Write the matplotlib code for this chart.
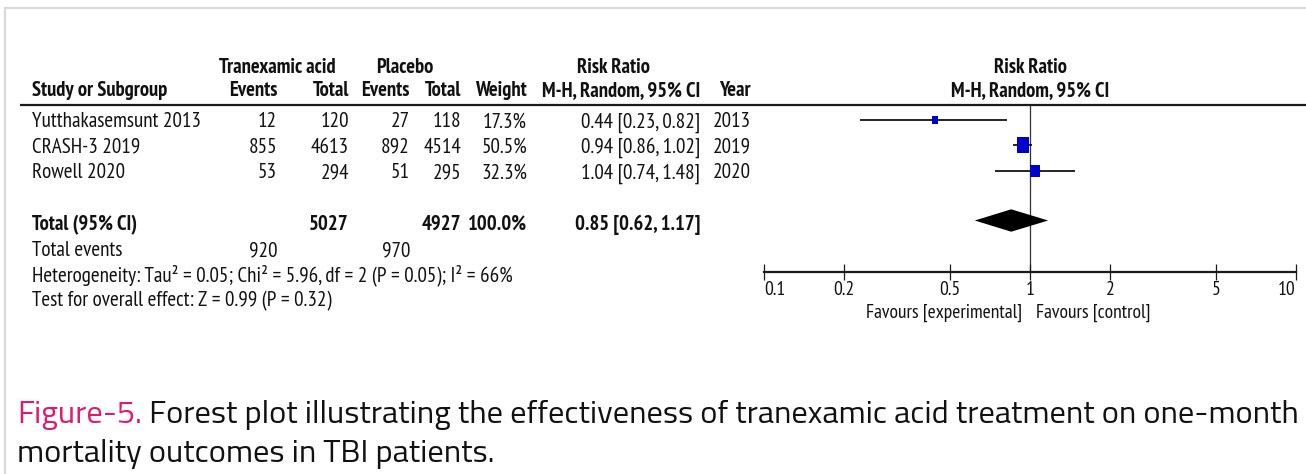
import matplotlib
matplotlib.use("Agg")
import matplotlib.pyplot as plt
from matplotlib.path import Path
from matplotlib.ticker import NullLocator

# study-level data (risk ratio, M-H random effects)
studies = ["Yutthakasemsunt 2013", "CRASH-3 2019", "Rowell 2020"]
txa_events = [12, 855, 53]
txa_total = [120, 4613, 294]
pla_events = [27, 892, 51]
pla_total = [118, 4514, 295]
weights = [17.3, 50.5, 32.3]
rr = [0.44, 0.94, 1.04]
rr_lo = [0.23, 0.86, 0.74]
rr_hi = [0.82, 1.02, 1.48]
years = [2013, 2019, 2020]

pooled = 0.85
pooled_lo = 0.62
pooled_hi = 1.17
pooled_weight = 100.0
heterogeneity = "Heterogeneity: Tau\u00b2 = 0.05; Chi\u00b2 = 5.96, df = 2 (P = 0.05); I\u00b2 = 66%"
overall = "Test for overall effect: Z = 0.99 (P = 0.32)"

ticks = [0.1, 0.2, 0.5, 1, 2, 5, 10]
tick_labels = ["0.1", "0.2", "0.5", "1", "2", "5", "10"]

W, H = 1306, 474
fig = plt.figure(figsize=(W / 100, H / 100), dpi=100)
base = fig.add_axes([0, 0, 1, 1])
base.set_xlim(0, W)
base.set_ylim(H, 0)
base.axis("off")

TABLE_FONT = ["PT Sans Narrow", "DejaVu Sans"]
CAPTION_FONT = ["Titillium Web", "DejaVu Sans"]
INK = "#111111"
renderer = fig.canvas.get_renderer()


def width_of(t):
    return t.get_window_extent(renderer).width


def fitted_size(s, target, **kw):
    t = base.text(0, 0, s, fontsize=10, **kw)
    w = width_of(t)
    t.remove()
    return 10 * target / w


fs = fitted_size(overall, 299, family=TABLE_FONT)
fs_bold = fitted_size("Study or Subgroup", 137, family=TABLE_FONT, weight="bold")
fs_axis = fitted_size("Favours [control]", 114, family=TABLE_FONT)


def cell(x, y, s, ha="right", bold=False):
    base.text(x, y, s, ha=ha, va="baseline", color=INK, family=TABLE_FONT,
              fontsize=fs_bold if bold else fs, weight="bold" if bold else "normal")


# column headers
cell(277.5, 72.7, "Tranexamic acid", ha="center", bold=True)
cell(405, 72.7, "Placebo", ha="center", bold=True)
cell(613, 72.7, "Risk Ratio", ha="center", bold=True)
cell(32, 95.7, "Study or Subgroup", ha="left", bold=True)
cell(277, 95.7, "Events", bold=True)
cell(349, 95.7, "Total", bold=True)
cell(410, 95.7, "Events", bold=True)
cell(461, 95.7, "Total", bold=True)
cell(527, 95.7, "Weight", bold=True)
cell(700, 95.7, "M-H, Random, 95% CI", bold=True)
cell(751, 95.7, "Year", bold=True)
cell(1030, 72.7, "Risk Ratio", ha="center", bold=True)
cell(1030, 95.7, "M-H, Random, 95% CI", ha="center", bold=True)
base.plot([20, W], [104.5, 104.5], color="#1a1a1a", lw=1.6, solid_capstyle="butt")

# study rows
row_base = [127.3, 152.7, 178.3]
row_mid = [119.5, 145, 171]
for i, name in enumerate(studies):
    y = row_base[i]
    cell(32, y, name, ha="left")
    cell(277, y, str(txa_events[i]))
    cell(349, y, str(txa_total[i]))
    cell(410, y, str(pla_events[i]))
    cell(461, y, str(pla_total[i]))
    cell(527, y, f"{weights[i]:.1f}%")
    cell(700, y, f"{rr[i]:.2f} [{rr_lo[i]:.2f}, {rr_hi[i]:.2f}]")
    cell(751, y, str(years[i]))

# pooled rows
cell(32, 230, "Total (95% CI)", ha="left", bold=True)
cell(349, 230, str(sum(txa_total)), bold=True)
cell(461, 230, str(sum(pla_total)), bold=True)
cell(527, 230, f"{pooled_weight:.1f}%", bold=True)
cell(700, 230, f"{pooled:.2f} [{pooled_lo:.2f}, {pooled_hi:.2f}]", bold=True)
cell(32, 256, "Total events", ha="left")
cell(277, 256, str(sum(txa_events)))
cell(410, 256, str(sum(pla_events)))
cell(32, 281.7, heterogeneity, ha="left")
cell(32, 306.7, overall, ha="left")

# forest panel on a log axis
x0, x1 = 764, 1296
fax = fig.add_axes([x0 / W, 0, (x1 - x0) / W, 1])
fax.set_xscale("log")
fax.set_xlim(0.1, 10)
fax.set_ylim(H, 0)
fax.patch.set_visible(False)
for s in ["top", "left", "right"]:
    fax.spines[s].set_visible(False)
axis_y = 271.7
fax.spines["bottom"].set_position(("data", axis_y))
fax.spines["bottom"].set_linewidth(1.6)
fax.spines["bottom"].set_color("#1a1a1a")
fax.set_yticks([])
fax.set_xticks(ticks)
fax.set_xticklabels(tick_labels, family=TABLE_FONT, fontsize=fs_axis, color=INK)
fax.xaxis.set_minor_locator(NullLocator())
fax.tick_params(axis="x", direction="inout", length=12, width=0.9, pad=1, color="#1a1a1a")
labs = fax.get_xticklabels()
labs[0].set_ha("left")
labs[-1].set_ha("right")

fax.vlines(1, 104.5, axis_y, color="#333333", lw=0.9, zorder=1)

box = Path([(-0.5, -0.635), (0.5, -0.635), (0.5, 0.635), (-0.5, 0.635), (-0.5, -0.635)], closed=True)
for i in range(len(studies)):
    y = row_mid[i]
    fax.hlines(y, rr_lo[i], rr_hi[i], color="black", lw=1.2, zorder=2)
    side = (3.2 + 0.18 * weights[i]) * 1.27 * 0.72
    fax.plot(rr[i], y, marker=box, ms=side, color="#0000cc", mec="#0000cc", mew=0, zorder=3)

dy = 220.5
fax.fill([pooled_lo, pooled, pooled_hi, pooled], [dy, dy - 11.2, dy, dy + 11.2],
         color="black", lw=0, zorder=3)

base.text(1022, 317.5, "Favours [experimental]", ha="right", va="baseline",
          family=TABLE_FONT, fontsize=fs_axis, color=INK)
base.text(1036, 317.5, "Favours [control]", ha="left", va="baseline",
          family=TABLE_FONT, fontsize=fs_axis, color=INK)

# frame around the figure panel
base.plot([5, 5], [7.5, H], color="#d9d9d9", lw=1.6, clip_on=False)
base.plot([5, W], [7.5, 7.5], color="#d9d9d9", lw=1.6, clip_on=False)

# caption
cap_kw = dict(family=CAPTION_FONT, weight="normal", va="baseline", fontsize=14)
t1 = base.text(17, 423, "Figure-5.", color="#e2196e", **cap_kw)
t2 = base.text(17, 423, " Forest plot illustrating the effectiveness of tranexamic acid "
               "treatment on one-month", color=INK, **cap_kw)
t3 = base.text(17, 462, "mortality outcomes in TBI patients.", color=INK, **cap_kw)
fs_cap = 14 * 1276 / (width_of(t1) + width_of(t2))
for t in (t1, t2, t3):
    t.set_fontsize(fs_cap)
t2.set_x(17 + width_of(t1))

fig.savefig("out.png", dpi=100)
